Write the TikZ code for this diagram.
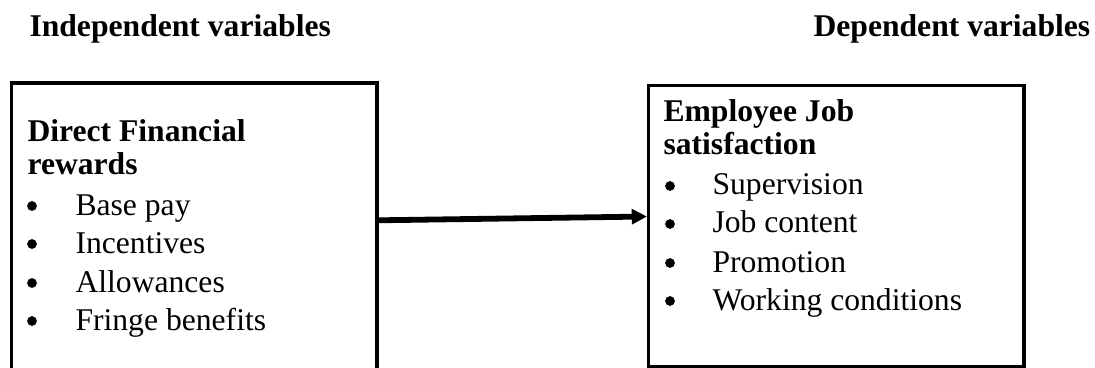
\documentclass[tikz,border=0pt]{standalone}
\usepackage{fontspec}
\setmainfont{Liberation Serif}
\usetikzlibrary{arrows.meta,positioning}
\tikzset{
  >={Triangle[length=5.8pt,width=5.6pt]},
  frame/.style={draw,line width=1.2pt,anchor=north west,inner sep=0pt},
  head/.style={font=\fontsize{12}{12.5}\selectfont\bfseries,anchor=base west,inner sep=0pt},
  item/.style={font=\fontsize{12}{14}\selectfont,anchor=base west,inner sep=0pt},
  dot/.style={circle,fill,inner sep=0pt,minimum size=3.7pt},
  flow/.style={->,line width=2.2pt},
}
\begin{document}
\begin{tikzpicture}[x=0.01333cm,y=-0.01333cm]
  \useasboundingbox (0,0) rectangle (1095,368);
  % column titles
  \node[head] (indep) at (29,37) {Independent variables};
  \node[head] (dep) at (813,37) {Dependent variables};
  % frames
  \node[frame,minimum width=4.873cm,minimum height=4.0cm] (lbox) at (10,81.5) {};
  \node[frame,minimum width=5.006cm,minimum height=3.746cm] (rbox) at (647,84) {};
  % left box text
  \node[head] (lh1) at (27,142) {Direct Financial};
  \node[head] (lh2) at (27,175) {rewards};
  \foreach \txt/\y [count=\i] in {Base pay/215,Incentives/253,Allowances/292,Fringe benefits/330}{
    \node[dot] (lb\i) at (32,{\y-9}) {};
    \node[item] (lt\i) at (75,\y) {\txt};
  }
  % right box text
  \node[head] (rh1) at (663,122) {Employee Job};
  \node[head] (rh2) at (663,155) {satisfaction};
  \foreach \txt/\y [count=\i] in {Supervision/195,Job content/233,Promotion/272,Working conditions/310}{
    \node[dot] (rb\i) at (670,{\y-9}) {};
    \node[item] (rt\i) at (712,\y) {\txt};
  }
  % link
  \draw[flow] ([yshift=0.17cm]lbox.east) -- ([yshift=0.127cm]rbox.west);
\end{tikzpicture}
\end{document}
